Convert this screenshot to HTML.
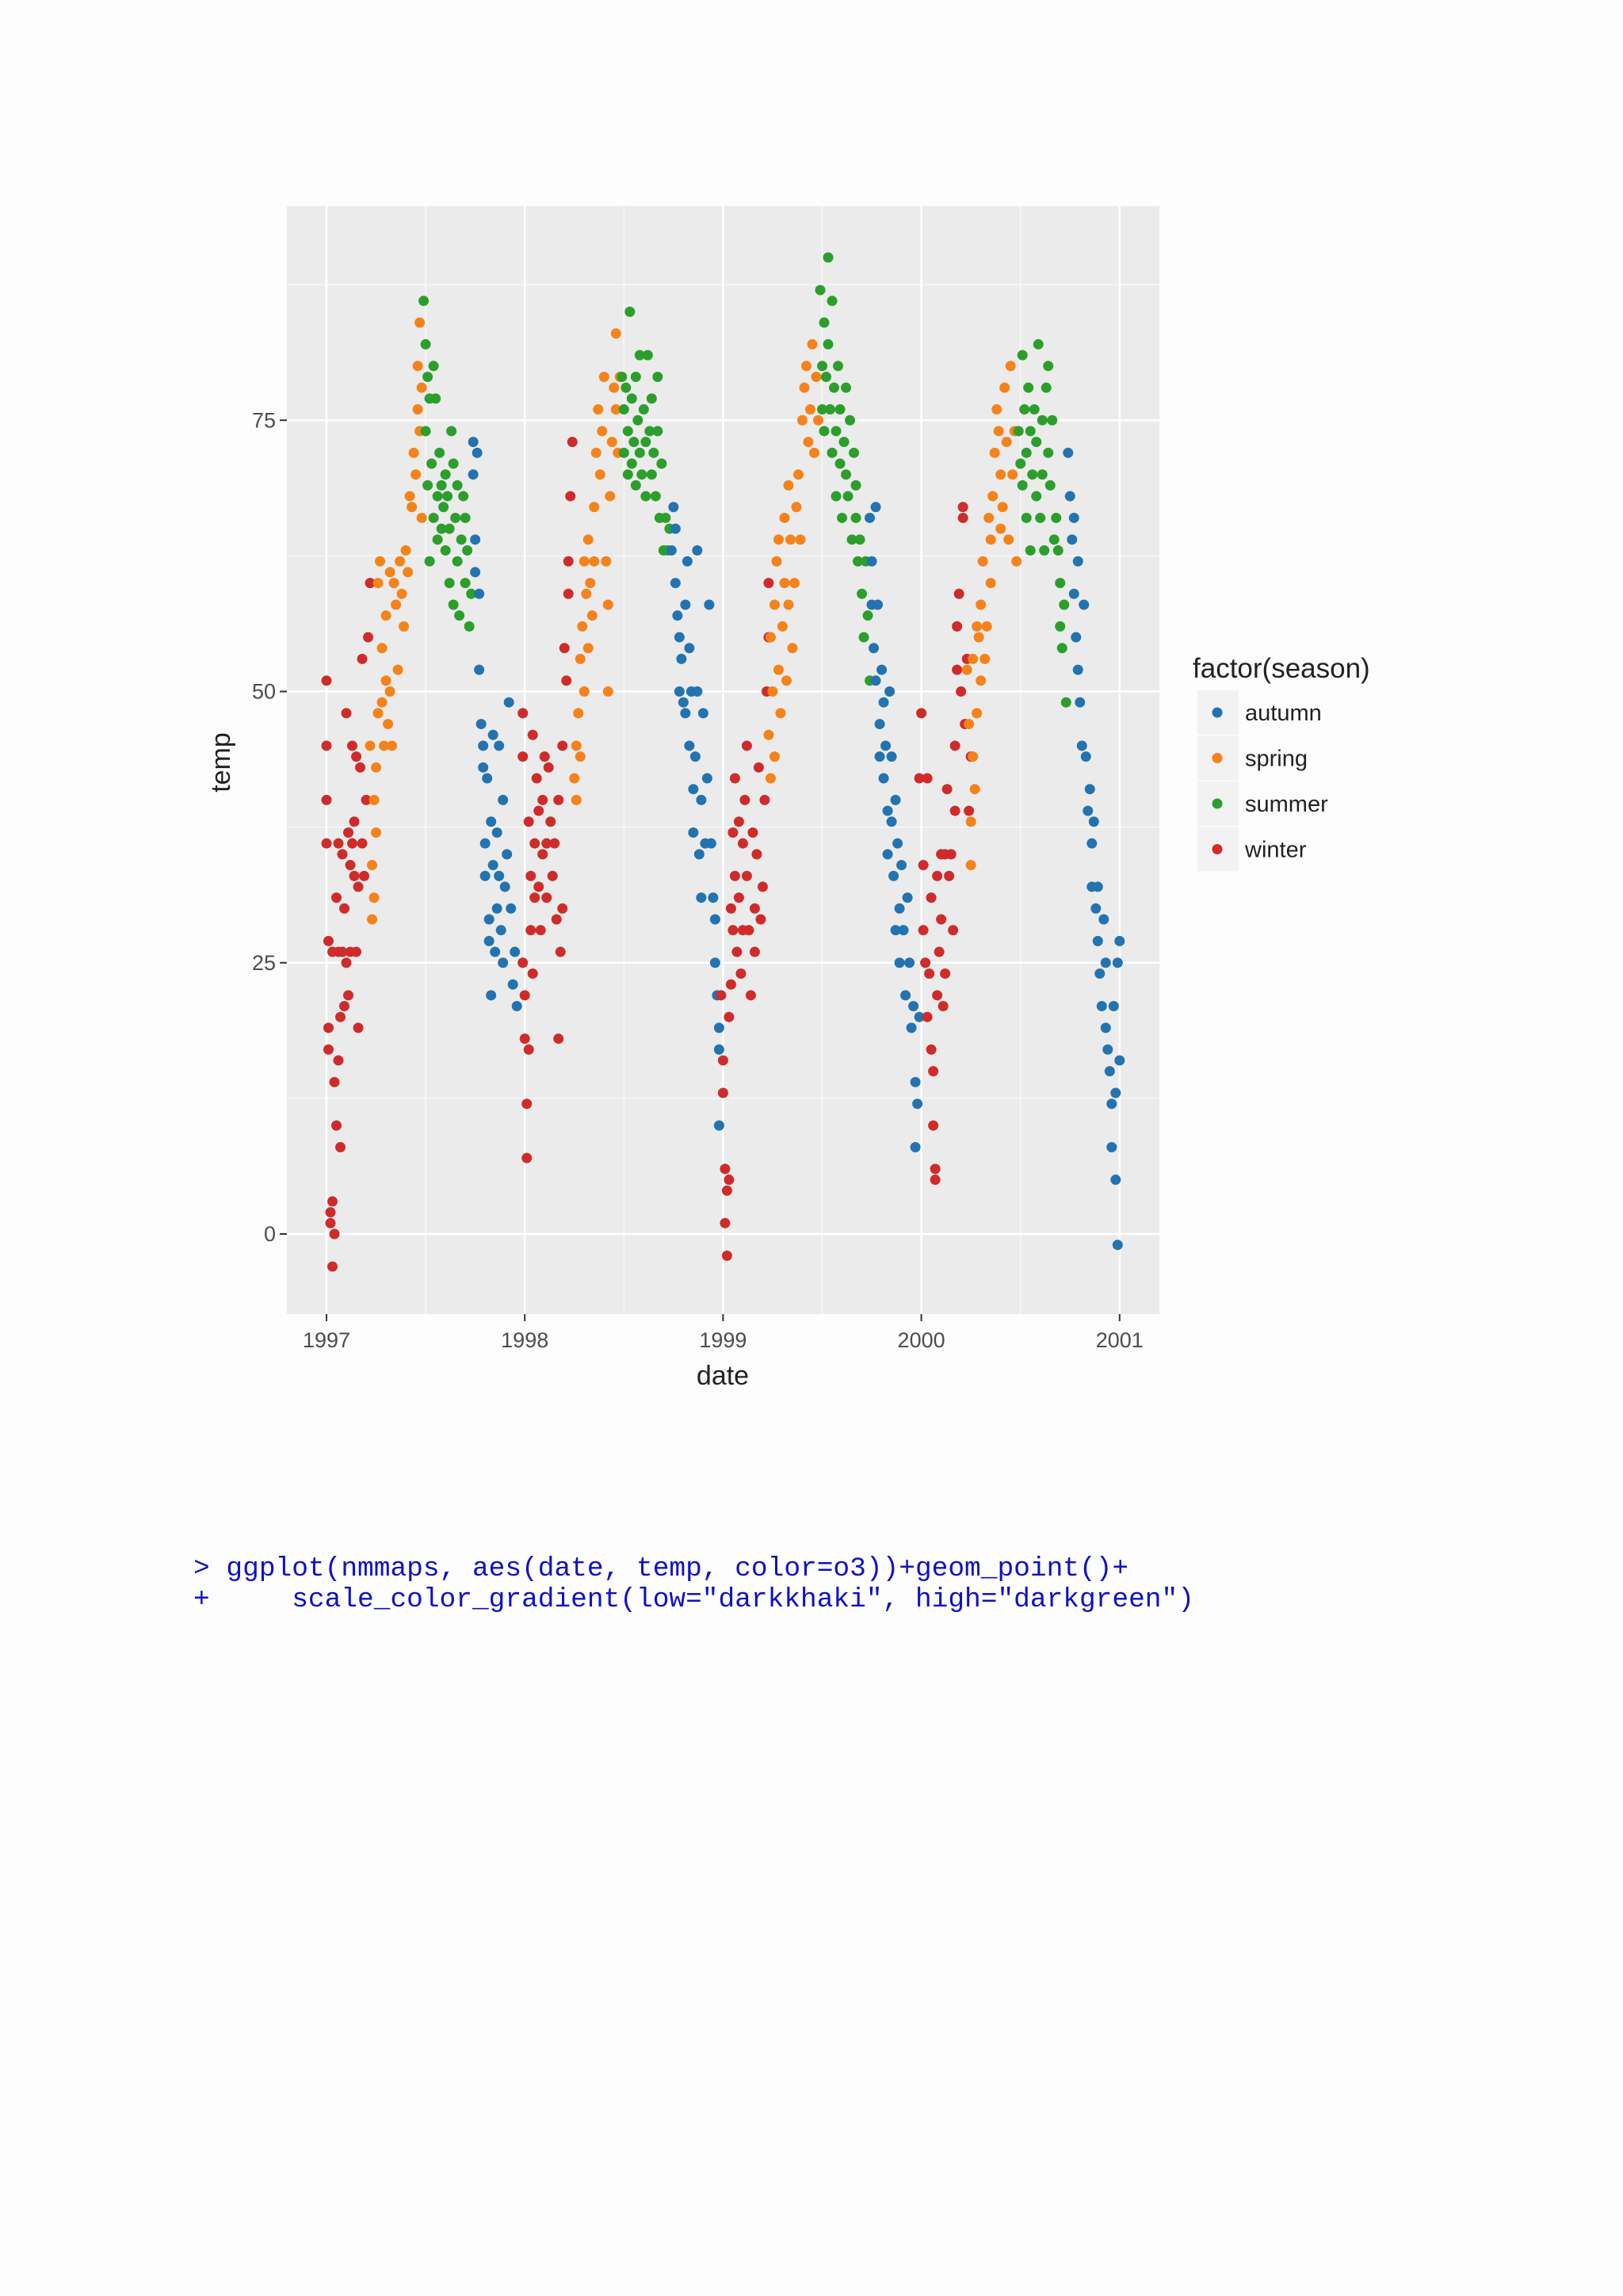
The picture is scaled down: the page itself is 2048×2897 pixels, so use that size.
<!DOCTYPE html>
<html><head><meta charset="utf-8"><style>
html,body{margin:0;padding:0;background:#fdfdfd;}
svg{display:block;}
</style></head><body>
<svg id="chart" width="2048" height="2897" viewBox="0 0 2048 2897" xmlns="http://www.w3.org/2000/svg" font-family="Liberation Sans, sans-serif">
<rect x="0" y="0" width="2048" height="2897" fill="#fdfdfd"/>
<rect x="362" y="260" width="1101" height="1398" fill="#ebebeb"/>
<g id="grid"></g>
<g id="axes"></g>
<g id="points"></g>
<text x="290" y="962" transform="rotate(-90 290 962)" text-anchor="middle" font-size="34" fill="#222">temp</text>
<text x="912" y="1747" text-anchor="middle" font-size="34" fill="#222">date</text>
<g id="legend">
<text x="1505" y="855" font-size="35" fill="#222">factor(season)</text>
</g>
<g font-family="Liberation Mono, monospace" font-size="34.5" fill="#1010c8">
<text x="244" y="1988" xml:space="preserve">&gt; ggplot(nmmaps, aes(date, temp, color=o3))+geom_point()+</text>
<text x="244" y="2027" xml:space="preserve">+     scale_color_gradient(low="darkkhaki", high="darkgreen")</text>
</g>
</svg>
<script>
const yTicks = [0, 25, 50, 75];
const yMinor = [12.5, 37.5, 62.5, 87.5];
const xTicks = [1997, 1998, 1999, 2000, 2001];
const xMinor = [1997.5, 1998.5, 1999.5, 2000.5];
const seasons = ["autumn", "spring", "summer", "winter"];
const seasonColors = ["#2373b0", "#f5821a", "#2c9e2c", "#cf2b2b"];

const winter = [[1997.00,36],[1997.00,51],[1997.00,45],[1997.00,40],[1997.01,27],[1997.01,19],[1997.01,17],[1997.02,2],[1997.02,1],[1997.03,3],[1997.03,26],[1997.03,-3],[1997.04,0],[1997.04,14],[1997.05,10],[1997.05,31],[1997.06,36],[1997.06,26],[1997.06,16],[1997.07,8],[1997.07,20],[1997.08,35],[1997.08,26],[1997.09,30],[1997.09,21],[1997.10,25],[1997.10,48],[1997.11,37],[1997.11,22],[1997.12,34],[1997.12,26],[1997.13,36],[1997.13,45],[1997.14,33],[1997.14,38],[1997.15,26],[1997.15,44],[1997.16,32],[1997.16,19],[1997.17,43],[1997.18,53],[1997.18,36],[1997.19,33],[1997.20,40],[1997.21,55],[1997.22,60],
[1997.99,48],[1997.99,44],[1997.99,25],[1998.00,22],[1998.00,18],[1998.01,12],[1998.01,7],[1998.02,17],[1998.02,38],[1998.03,33],[1998.03,28],[1998.04,46],[1998.04,24],[1998.05,31],[1998.05,36],[1998.06,42],[1998.07,39],[1998.07,32],[1998.08,28],[1998.09,35],[1998.09,40],[1998.10,44],[1998.11,36],[1998.11,31],[1998.12,43],[1998.13,38],[1998.14,33],[1998.15,36],[1998.16,29],[1998.17,18],[1998.17,40],[1998.18,26],[1998.19,30],[1998.19,45],[1998.20,54],[1998.21,51],[1998.22,59],[1998.22,62],[1998.23,68],[1998.24,73],
[1998.99,22],[1999.00,16],[1999.00,13],[1999.01,6],[1999.01,1],[1999.02,-2],[1999.02,4],[1999.03,5],[1999.03,20],[1999.04,30],[1999.04,23],[1999.05,37],[1999.05,28],[1999.06,33],[1999.06,42],[1999.07,26],[1999.08,38],[1999.08,31],[1999.09,24],[1999.10,28],[1999.10,36],[1999.11,40],[1999.12,33],[1999.12,45],[1999.13,28],[1999.14,22],[1999.15,37],[1999.16,30],[1999.16,26],[1999.17,35],[1999.18,43],[1999.19,29],[1999.20,32],[1999.21,40],[1999.22,50],[1999.23,55],[1999.23,60],
[1999.99,42],[2000.00,48],[2000.01,34],[2000.01,28],[2000.02,25],[2000.03,20],[2000.03,42],[2000.04,24],[2000.05,31],[2000.05,17],[2000.06,15],[2000.06,10],[2000.07,5],[2000.07,6],[2000.08,22],[2000.08,33],[2000.09,26],[2000.10,35],[2000.10,29],[2000.11,21],[2000.12,35],[2000.12,24],[2000.13,41],[2000.14,33],[2000.15,35],[2000.16,28],[2000.17,45],[2000.17,39],[2000.18,52],[2000.18,56],[2000.19,59],[2000.20,50],[2000.21,66],[2000.21,67],[2000.22,47],[2000.23,53],[2000.24,39],[2000.25,44]];

const spring = [[1997.22,45],[1997.23,34],[1997.23,29],[1997.24,31],[1997.24,40],[1997.25,37],[1997.25,43],[1997.26,48],[1997.26,60],[1997.27,62],[1997.28,54],[1997.28,49],[1997.29,45],[1997.30,51],[1997.30,57],[1997.31,47],[1997.32,50],[1997.32,61],[1997.33,45],[1997.34,60],[1997.35,58],[1997.36,52],[1997.37,62],[1997.38,59],[1997.39,56],[1997.40,63],[1997.41,61],[1997.42,68],[1997.43,67],[1997.44,72],[1997.45,70],[1997.46,76],[1997.46,80],[1997.47,84],[1997.47,74],[1997.48,78],[1997.48,66],
[1998.25,42],[1998.26,45],[1998.26,40],[1998.27,48],[1998.28,53],[1998.28,44],[1998.29,56],[1998.30,50],[1998.30,62],[1998.31,59],[1998.32,54],[1998.32,64],[1998.33,60],[1998.34,57],[1998.35,67],[1998.35,62],[1998.36,72],[1998.37,76],[1998.38,70],[1998.39,74],[1998.40,79],[1998.41,62],[1998.42,58],[1998.42,50],[1998.43,68],[1998.44,73],[1998.45,78],[1998.46,83],[1998.46,76],[1998.47,72],[1998.48,79],
[1999.23,46],[1999.24,42],[1999.24,55],[1999.25,50],[1999.26,44],[1999.26,58],[1999.27,62],[1999.28,52],[1999.28,64],[1999.29,48],[1999.30,56],[1999.31,60],[1999.31,66],[1999.32,51],[1999.33,58],[1999.33,69],[1999.34,64],[1999.35,54],[1999.36,60],[1999.37,67],[1999.38,70],[1999.39,64],[1999.40,75],[1999.41,78],[1999.42,80],[1999.43,73],[1999.44,76],[1999.45,82],[1999.46,72],[1999.47,79],[1999.48,75],
[2000.23,52],[2000.24,47],[2000.25,34],[2000.25,38],[2000.26,44],[2000.26,53],[2000.27,41],[2000.28,48],[2000.28,56],[2000.29,55],[2000.30,51],[2000.30,58],[2000.31,62],[2000.32,53],[2000.33,56],[2000.34,66],[2000.35,60],[2000.35,64],[2000.36,68],[2000.37,72],[2000.38,76],[2000.39,74],[2000.40,70],[2000.40,65],[2000.41,67],[2000.42,78],[2000.43,73],[2000.44,64],[2000.45,80],[2000.46,70],[2000.47,74],[2000.48,62]];

const summer = [[1997.49,86],[1997.50,82],[1997.50,74],[1997.51,79],[1997.51,69],[1997.52,77],[1997.52,62],[1997.53,71],[1997.54,80],[1997.54,66],[1997.55,77],[1997.56,68],[1997.56,64],[1997.57,72],[1997.58,69],[1997.58,65],[1997.59,67],[1997.60,70],[1997.60,63],[1997.61,68],[1997.62,65],[1997.62,60],[1997.63,74],[1997.64,71],[1997.64,58],[1997.65,66],[1997.66,69],[1997.66,62],[1997.67,57],[1997.68,64],[1997.69,68],[1997.70,60],[1997.70,66],[1997.71,63],[1997.72,56],[1997.73,59],
[1998.49,79],[1998.50,76],[1998.50,72],[1998.51,78],[1998.52,70],[1998.52,74],[1998.53,85],[1998.54,77],[1998.54,71],[1998.55,73],[1998.56,79],[1998.56,69],[1998.57,75],[1998.58,81],[1998.58,72],[1998.59,70],[1998.60,76],[1998.61,73],[1998.61,68],[1998.62,81],[1998.63,74],[1998.64,70],[1998.64,77],[1998.65,72],[1998.66,68],[1998.67,79],[1998.67,74],[1998.68,66],[1998.69,71],[1998.70,63],[1998.71,66],[1998.72,63],[1998.73,65],
[1999.49,87],[1999.50,80],[1999.50,76],[1999.51,84],[1999.51,74],[1999.52,79],[1999.53,90],[1999.53,82],[1999.54,76],[1999.55,86],[1999.55,72],[1999.56,78],[1999.57,74],[1999.57,68],[1999.58,80],[1999.59,76],[1999.59,71],[1999.60,66],[1999.61,73],[1999.62,70],[1999.62,78],[1999.63,68],[1999.64,75],[1999.65,64],[1999.66,72],[1999.67,69],[1999.67,66],[1999.68,62],[1999.69,64],[1999.70,59],[1999.71,55],[1999.72,62],[1999.73,57],[1999.74,51],
[2000.49,74],[2000.50,71],[2000.51,81],[2000.51,69],[2000.52,76],[2000.53,72],[2000.53,66],[2000.54,78],[2000.55,74],[2000.55,63],[2000.56,70],[2000.57,76],[2000.58,68],[2000.58,73],[2000.59,82],[2000.60,66],[2000.61,75],[2000.61,70],[2000.62,63],[2000.63,78],[2000.64,80],[2000.64,72],[2000.65,69],[2000.66,75],[2000.67,64],[2000.68,66],[2000.69,63],[2000.70,56],[2000.70,60],[2000.71,54],[2000.72,58],[2000.73,49]];

const autumn = [[1997.74,73],[1997.74,70],[1997.75,64],[1997.75,61],[1997.76,72],[1997.77,59],[1997.77,52],[1997.78,47],[1997.79,45],[1997.79,43],[1997.80,36],[1997.80,33],[1997.81,42],[1997.82,27],[1997.82,29],[1997.83,22],[1997.83,38],[1997.84,46],[1997.84,34],[1997.85,26],[1997.86,30],[1997.86,37],[1997.87,45],[1997.87,33],[1997.88,28],[1997.89,40],[1997.89,25],[1997.90,32],[1997.91,35],[1997.92,49],[1997.93,30],[1997.94,23],[1997.95,26],[1997.96,21],
[1998.74,63],[1998.75,67],[1998.76,65],[1998.76,60],[1998.77,57],[1998.78,55],[1998.78,50],[1998.79,53],[1998.80,49],[1998.81,58],[1998.81,48],[1998.82,62],[1998.83,54],[1998.83,45],[1998.84,50],[1998.85,41],[1998.85,37],[1998.86,44],[1998.87,63],[1998.87,50],[1998.88,35],[1998.89,31],[1998.89,40],[1998.90,48],[1998.91,36],[1998.92,42],[1998.93,58],[1998.94,36],[1998.95,31],[1998.96,25],[1998.96,29],[1998.97,22],[1998.98,17],[1998.98,19],[1998.98,10],
[1999.74,66],[1999.75,62],[1999.75,58],[1999.76,54],[1999.77,67],[1999.77,51],[1999.78,58],[1999.79,47],[1999.79,44],[1999.80,52],[1999.81,49],[1999.81,42],[1999.82,45],[1999.83,39],[1999.83,35],[1999.84,50],[1999.85,44],[1999.85,38],[1999.86,33],[1999.87,40],[1999.87,28],[1999.88,36],[1999.89,30],[1999.89,25],[1999.90,34],[1999.91,28],[1999.92,22],[1999.93,31],[1999.94,25],[1999.95,19],[1999.96,21],[1999.97,14],[1999.97,8],[1999.98,12],[1999.99,20],
[2000.74,72],[2000.75,68],[2000.76,64],[2000.77,59],[2000.77,66],[2000.78,55],[2000.79,62],[2000.79,52],[2000.80,49],[2000.81,45],[2000.82,58],[2000.83,44],[2000.84,39],[2000.85,41],[2000.86,36],[2000.86,32],[2000.87,38],[2000.88,30],[2000.89,27],[2000.89,32],[2000.90,24],[2000.91,21],[2000.92,29],[2000.93,25],[2000.93,19],[2000.94,17],[2000.95,15],[2000.96,12],[2000.96,8],[2000.97,21],[2000.98,13],[2000.98,5],[2000.99,25],[2001.00,27],[2000.99,-1],[2001.00,16]];

const NS = "http://www.w3.org/2000/svg";
const PL = 362, PR = 1463, PT = 260, PB = 1658;
function xScale(yr) { return 412 + (yr - 1997) * 250.2; }
function yScale(t) { return 1557 - t * 13.69; }
function mk(tag, attrs, parent) {
  const el = document.createElementNS(NS, tag);
  for (const k in attrs) el.setAttribute(k, attrs[k]);
  parent.appendChild(el);
  return el;
}
const grid = document.getElementById("grid");
const axes = document.getElementById("axes");
const pts = document.getElementById("points");
const legend = document.getElementById("legend");

yMinor.forEach(v => {
  const l = mk("line", {x1: PL, x2: PR, y1: yScale(v), y2: yScale(v), stroke: "#fafafa", "stroke-width": 1.3}, grid);
  
  
});
xMinor.forEach(v => {
  const l = mk("line", {x1: xScale(v), x2: xScale(v), y1: PT, y2: PB, stroke: "#fafafa", "stroke-width": 1.3}, grid);
  
  
});
yTicks.forEach(v => {
  const y = yScale(v);
  const l = mk("line", {x1: PL, x2: PR, y1: y, y2: y, stroke: "#ffffff", "stroke-width": 2.6}, grid);
  
  
  const t = mk("line", {x1: PL - 9, x2: PL, y1: y, y2: y, stroke: "#333", "stroke-width": 2}, axes);
  
  
  const tx = mk("text", {x: PL - 14, y: y + 9, "text-anchor": "end", "font-size": 27, fill: "#4d4d4d"}, axes);
  tx.textContent = String(v);
  
  
});
xTicks.forEach(v => {
  const x = xScale(v);
  const l = mk("line", {x1: x, x2: x, y1: PT, y2: PB, stroke: "#ffffff", "stroke-width": 2.6}, grid);
  
  
  const t = mk("line", {x1: x, x2: x, y1: PB, y2: PB + 9, stroke: "#333", "stroke-width": 2}, axes);
  
  
  const tx = mk("text", {x: x, y: PB + 42, "text-anchor": "middle", "font-size": 27, fill: "#4d4d4d"}, axes);
  tx.textContent = String(v);
  
  
});

const seriesData = [autumn, spring, summer, winter];
const all = [];
seriesData.forEach((arr, si) => arr.forEach(p => all.push([p[0], p[1], si])));
all.sort((a, b) => a[0] - b[0]);
all.forEach(p => {
  const c = mk("circle", {cx: xScale(p[0]), cy: yScale(p[1]), r: 6.5, fill: seasonColors[p[2]]}, pts);
  
  
});

seasons.forEach((s, i) => {
  const ky = 871 + i * 57.5;
  const bg = mk("rect", {x: 1511, y: ky, width: 52, height: 56, fill: "#f2f2f2"}, legend);
  
  
  const dot = mk("circle", {cx: 1536, cy: ky + 28, r: 6.5, fill: seasonColors[i]}, legend);
  
  
  const tx = mk("text", {x: 1571, y: ky + 38, "font-size": 29, fill: "#222"}, legend);
  tx.textContent = s;
  
  
});
</script>
</body></html>
